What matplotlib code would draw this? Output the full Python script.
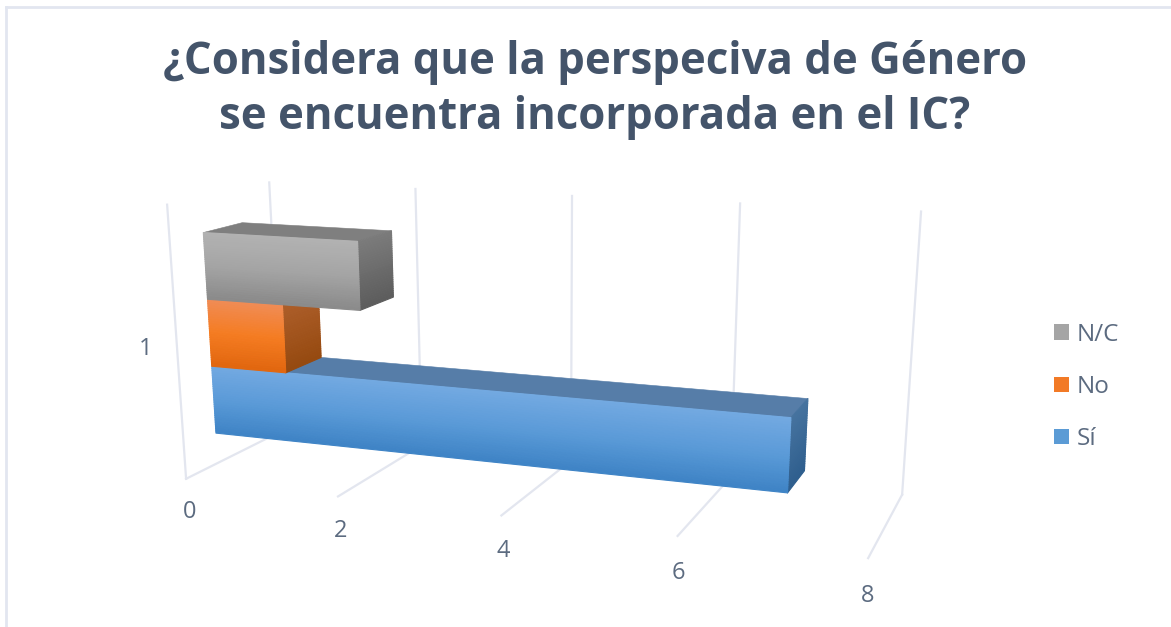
import numpy as np
import matplotlib
matplotlib.use("Agg")
import matplotlib.pyplot as plt
from matplotlib.colors import LinearSegmentedColormap
from matplotlib.patches import Patch
from mpl_toolkits.mplot3d.art3d import Poly3DCollection

title_text = "¿Considera que la perspeciva de Género\nse encuentra incorporada en el IC?"
series_names = ["Sí", "No", "N/C"]
series_values = [7, 1, 2]
x_ticks = [0, 2, 4, 6, 8]
category_labels = ["1"]

front_colors = [["#72a9e1", "#5b9bd8", "#3f84c6"],
                ["#f08c55", "#f57c22", "#e2670f"],
                ["#b2b2b2", "#a5a5a5", "#8b8b8b"]]
side_colors = [["#46739f", "#2f5f8e"],
               ["#ad5e2a", "#964a10"],
               ["#7b7b7b", "#5d5d5d"]]
top_colors = ["#567da8", "#a0562a", "#7f7f7f"]
legend_colors = ["#5b9bd5", "#f27a26", "#a5a5a5"]
TEXT = "#44546a"
LABEL = "#5c6b80"
GRID = "#e3e6ef"
W, H = 1171, 627

# Camera calibration: world axis corners of the plot box -> output pixels
cal_world = np.array([[0, 0, 0], [0, 0, 1], [0, 1, 1], [8, 1, 1], [8, 1, 0], [8, 0, 0],
                      [2, 1, 1], [4, 1, 1], [6, 1, 1], [2, 0, 0], [6, 0, 0]], float)
cal_pixel = np.array([[186, 478], [167, 205], [269, 183], [921, 212], [902, 495], [868, 558],
                      [416, 189], [572, 195], [740, 203], [338, 497], [678, 536]], float)


def fit_camera(world, pixel):
    rows = []
    for (X, Y, Z), (u, v) in zip(world, pixel):
        rows.append([X, Y, Z, 1, 0, 0, 0, 0, -u * X, -u * Y, -u * Z, -u])
        rows.append([0, 0, 0, 0, X, Y, Z, 1, -v * X, -v * Y, -v * Z, -v])
    h = np.linalg.svd(np.array(rows))[2][-1].reshape(3, 4)
    m = np.vstack([h[0], h[1], [0, 0.01, 0, 0.001], h[2]])
    to_view = np.array([[2 / W, 0, 0, -1], [0, -2 / H, 0, 1], [0, 0, 1, 0], [0, 0, 0, 1]], float)
    return to_view @ m


BAR_Y = (0.305, 0.69)
BAR_Z = [0.12, 0.378, 0.63, 0.875]

fig = plt.figure(figsize=(W / 100, H / 100), dpi=100, facecolor="white")
ax = fig.add_axes([0, 0, 1, 1], projection="3d")
ax.apply_aspect = lambda *a, **k: None
ax.set_axis_off()
ax.computed_zorder = False
ax.set_xlim(0, 8); ax.set_ylim(0, 1); ax.set_zlim(0, 1)
ax.set_xticks([]); ax.set_yticks([]); ax.set_zticks([])
for axis in (ax.xaxis, ax.yaxis, ax.zaxis):
    axis.set_visible(False)
    axis.offsetText.set_visible(False)
    axis.label.set_visible(False)
ax.autoscale(False)
camera = fit_camera(cal_world, cal_pixel)
ax.get_proj = lambda: camera
ax.viewLim.intervalx = (-1, 1)
ax.viewLim.intervaly = (-1, 1)

# walls and floor guides
for t in x_ticks:
    ax.plot([t, t], [1, 1], [0, 1], color=GRID, lw=1.6, zorder=1)
    ax.plot([t, t], [0, 1], [0, 0], color=GRID, lw=1.6, zorder=1)
ax.plot([0, 0], [0, 0], [0, 1], color=GRID, lw=1.6, zorder=1)


def add_face(verts, color, z, lw=0.4):
    ax.add_collection3d(Poly3DCollection([verts], facecolors=color, edgecolors=color,
                                         linewidths=lw, zorder=z))


def gradient_face(corner, colors, z, n=30):
    """corner(a, b) gives the 4 vertices of the slice between height fractions a and b"""
    cmap = LinearSegmentedColormap.from_list("g", colors)
    for i in range(n):
        add_face(corner(i / n, (i + 1) / n), cmap(i / (n - 1)), z, lw=0.8)


for i, v in enumerate(series_values):
    y0, y1 = BAR_Y
    z0, z1 = BAR_Z[i], BAR_Z[i + 1]
    base = 10 + 10 * i
    add_face([(0, y0, z1), (v, y0, z1), (v, y1, z1), (0, y1, z1)], top_colors[i], base)
    gradient_face(lambda a, b: [(v, y0, z1 - a * (z1 - z0)), (v, y1, z1 - a * (z1 - z0)),
                                (v, y1, z1 - b * (z1 - z0)), (v, y0, z1 - b * (z1 - z0))],
                  side_colors[i], base + 1)
    gradient_face(lambda a, b: [(0, y0, z1 - a * (z1 - z0)), (v, y0, z1 - a * (z1 - z0)),
                                (v, y0, z1 - b * (z1 - z0)), (0, y0, z1 - b * (z1 - z0))],
                  front_colors[i], base + 2)

for t in x_ticks:
    ax.text(t + 0.02, 0, -0.128, str(t), color=LABEL, fontsize=17, family="Open Sans",
            ha="center", va="center", zorder=50)
ax.text(-0.43, 0, 0.477, category_labels[0], color=LABEL, fontsize=17, family="Open Sans",
        ha="center", va="center", zorder=50)

ax.text2D(595 / W, 1 - 90 / H, title_text, transform=fig.transFigure, ha="center", va="center",
          color=TEXT, fontsize=31.5, fontweight="bold", family="Open Sans", linespacing=1.32)

# chart frame
fig.add_artist(plt.Line2D([6 / W, 6 / W], [1 - 7 / H, 0], color="#e2e6f0", lw=2))
fig.add_artist(plt.Line2D([6 / W, 1], [1 - 7 / H, 1 - 7 / H], color="#e2e6f0", lw=2))

handles = [Patch(facecolor=legend_colors[i], label=series_names[i]) for i in (2, 1, 0)]
leg = ax.legend(handles=handles, loc="upper left", bbox_to_anchor=(1032 / W, 1 - 301 / H),
                bbox_transform=fig.transFigure, frameon=False,
                prop={"family": "Open Sans", "size": 17.5},
                handlelength=0.62, handleheight=0.62, handletextpad=0.32, labelspacing=1.155)
for t in leg.get_texts():
    t.set_color(LABEL)

fig.savefig("out.png", dpi=100)
